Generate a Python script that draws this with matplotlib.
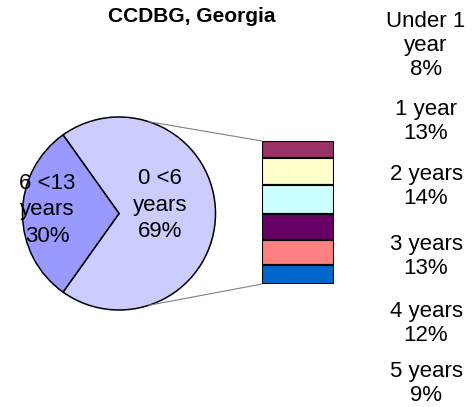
import numpy as np
import matplotlib
matplotlib.use('Agg')
import matplotlib.pyplot as plt

plt.rcParams['font.family'] = ['Liberation Sans', 'DejaVu Sans']

TITLE = 'CCDBG, Georgia'

# main pie
pie_labels = ['0 <6\nyears\n69%', '6 <13\nyears\n30%']
pie_values = [69, 30]
pie_colors = ['#CCCCFF', '#9999FF']

# breakdown of 0 <6 years (share of total)
age_names = ['Under 1\nyear', '1 year', '2 years', '3 years', '4 years', '5 years']
age_values = [8, 13, 14, 13, 12, 9]
age_colors = ['#993366', '#FFFFCC', '#CCFFFF', '#660066', '#FF8080', '#0066CC']

W, H = 475, 407
fig = plt.figure(figsize=(W / 100, H / 100), dpi=100)

# pie geometry in pixels
cx, cy, r = 119, 213.5, 96.5
ax_pie = fig.add_axes([(cx - r) / W, (H - cy - r) / H, 2 * r / W, 2 * r / H])
share_small = pie_values[1] / sum(pie_values) * 360
ax_pie.pie(pie_values, colors=pie_colors, startangle=180 + share_small / 2,
           counterclock=True, wedgeprops=dict(edgecolor='black', linewidth=1.1))
ax_pie.set_xlim(-1, 1)
ax_pie.set_ylim(-1, 1)
ax_pie.set_aspect('equal')
ax_pie.axis('off')

# stacked bar
bx0, bx1, by0, by1 = 262, 334, 141, 284
ax_bar = fig.add_axes([bx0 / W, (H - by1) / H, (bx1 - bx0) / W, (by1 - by0) / H])
bottom = 0
for v, c in zip(age_values, age_colors):
    ax_bar.bar(0, v, bottom=bottom, width=1, color=c, edgecolor='black', linewidth=1.5)
    bottom += v
ax_bar.set_xlim(-0.5, 0.5)
ax_bar.set_ylim(sum(age_values), 0)
ax_bar.axis('off')

# overlay in pixel coords for lines and text
ov = fig.add_axes([0, 0, 1, 1])
ov.set_xlim(0, W)
ov.set_ylim(H, 0)
ov.axis('off')
ov.patch.set_alpha(0)

for ang, by in [(72, by0), (-72, by1)]:
    px = cx + r * np.cos(np.radians(ang))
    py = cy - r * np.sin(np.radians(ang))
    ov.plot([px, bx0], [py, by], color='#808080', lw=0.8, zorder=1)

ov.text(192, 22, TITLE, ha='center', va='baseline', fontsize=15, fontweight='bold')

fs = 16
# pie labels
for lbl, x, y0 in [(pie_labels[0], 160, 184), (pie_labels[1], 47, 189)]:
    for i, line in enumerate(lbl.split('\n')):
        ov.text(x, y0 + i * 26.5, line, ha='center', va='baseline', fontsize=fs)

# right-hand labels
first_baselines = [27, 115, 180, 250, 317, 377]
for name, v, y0 in zip(age_names, age_values, first_baselines):
    lines = name.split('\n') + ['%d%%' % v]
    for i, line in enumerate(lines):
        ov.text(426, y0 + i * 24, line, ha='center', va='baseline', fontsize=fs)

fig.savefig('out.png', dpi=100)
